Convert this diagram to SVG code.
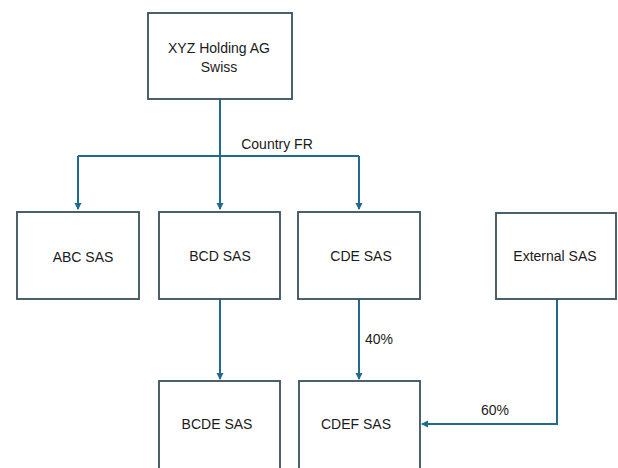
<svg xmlns="http://www.w3.org/2000/svg" width="618" height="468" viewBox="0 0 618 468">
<style>
.box{fill:#fff;stroke:#3a4f5e;stroke-width:1.8}
.t{font-family:"Liberation Sans",Arial,sans-serif;font-size:14px;fill:#1a1a1a;text-anchor:middle}
.c{fill:none;stroke:#1f6a8e;stroke-width:2}
</style>
<defs>
<marker id="ah" markerWidth="8" markerHeight="8" refX="6" refY="4" orient="auto" markerUnits="userSpaceOnUse">
<path d="M0,0.5 L7,4 L0,7.5 Z" fill="#1f6a8e"/>
</marker>
</defs>
<rect width="618" height="468" fill="#fff"/>
<g id="connectors">
<path class="c" d="M220,99 V209" marker-end="url(#ah)"/>
<path class="c" d="M78,156 H359"/>
<path class="c" d="M78,156 V209" marker-end="url(#ah)"/>
<path class="c" d="M359,156 V209" marker-end="url(#ah)"/>
<path class="c" d="M220,299 V379" marker-end="url(#ah)"/>
<path class="c" d="M359,299 V379" marker-end="url(#ah)"/>
<path class="c" d="M557,299 V424 H422" marker-end="url(#ah)"/>
<text class="t" x="277" y="149">Country FR</text>
<text class="t" x="379" y="344">40%</text>
<text class="t" x="495" y="415">60%</text>
</g>
<g id="xyz"><rect class="box" x="148" y="13" width="144" height="86"/><text class="t" x="219" y="53">XYZ Holding AG</text><text class="t" x="219" y="72">Swiss</text></g>
<g id="abc"><rect class="box" x="17" y="212" width="122" height="87"/><text class="t" x="83" y="262">ABC SAS</text></g>
<g id="bcd"><rect class="box" x="159" y="212" width="121" height="87"/><text class="t" x="220" y="261">BCD SAS</text></g>
<g id="cde"><rect class="box" x="298" y="212" width="122" height="87"/><text class="t" x="361" y="261">CDE SAS</text></g>
<g id="external"><rect class="box" x="496" y="213" width="120" height="86"/><text class="t" x="555" y="261">External SAS</text></g>
<g id="bcde"><rect class="box" x="159" y="381" width="121" height="90"/><text class="t" x="217" y="429">BCDE SAS</text></g>
<g id="cdef"><rect class="box" x="299" y="381" width="121" height="90"/><text class="t" x="356" y="429">CDEF SAS</text></g>
</svg>
